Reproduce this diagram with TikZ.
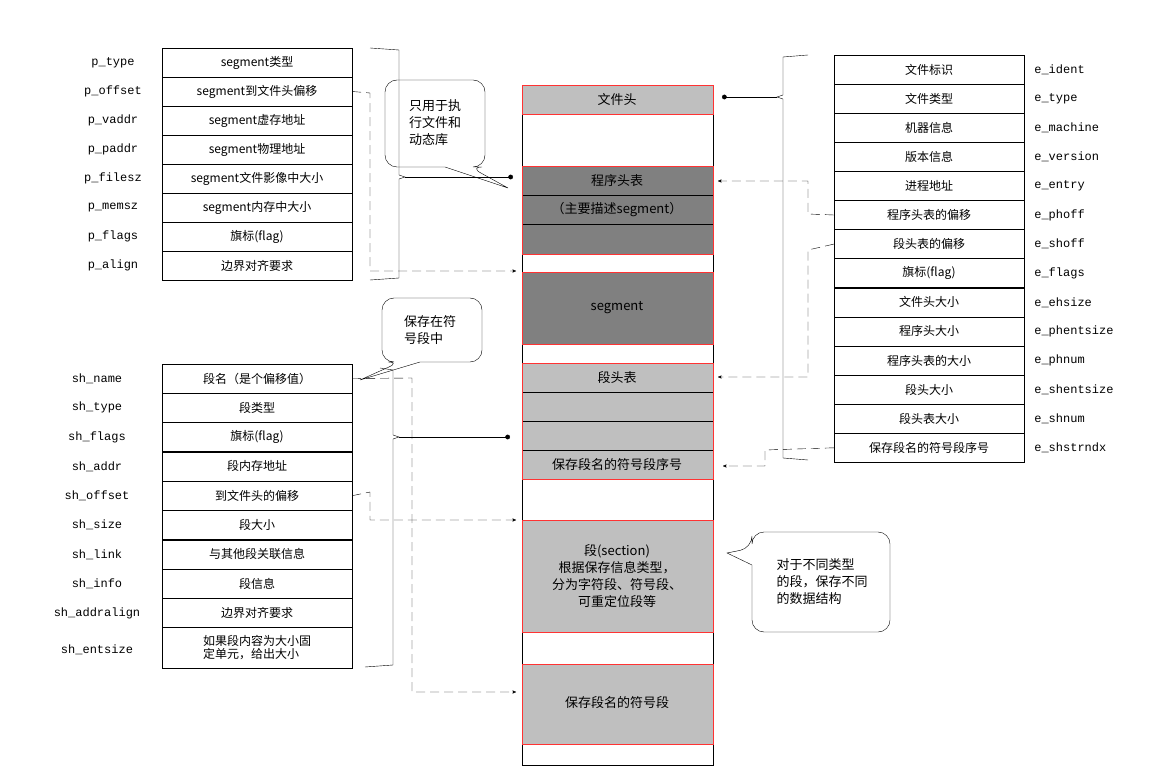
\documentclass[tikz,border=0pt]{standalone}
\usepackage{fontspec}
\setmainfont{Noto Sans CJK SC}
\newfontfamily\monof{Liberation Mono}
\usetikzlibrary{arrows,positioning}

\begin{document}
\begin{tikzpicture}[x=1pt,y=-1pt,>=stealth',semithick,
    cell/.style={draw=black,thin,minimum width=190pt,minimum height=29pt,inner sep=0pt,font=\fontsize{12}{13}\selectfont},
    lbl/.style={font=\monof\fontsize{12}{13}\selectfont,inner sep=0pt},
    blk/.style={draw=red!80,thin},
    dashlink/.style={dash pattern=on 9pt off 5pt,thin},
    callout/.style={draw=black,thin,rounded corners=12pt},
    txt/.style={font=\fontsize{13}{17}\selectfont,align=center,inner sep=0pt}]
  \useasboundingbox (0,0) rectangle (1162,775);

  % central column
  \draw[thin] (522,85) rectangle (713,765);
  \fill[gray!50] (522,85) rectangle (713,114);
  \fill[gray] (522,166) rectangle (713,254);
  \fill[gray] (522,272) rectangle (713,344);
  \fill[gray!50] (522,363) rectangle (713,479);
  \fill[gray!50] (522,520) rectangle (713,632);
  \fill[gray!50] (522,664) rectangle (713,744);
  \foreach \y in {195,224,392,421,450} \draw[thin] (522,\y) -- (713,\y);
  \foreach \a/\b in {85/114,166/254,272/344,363/479,520/632,664/744}
    \draw[blk] (522,\a) rectangle (713,\b);
  \node[txt] (fh)  at (617,100) {文件头};
  \node[txt] (pht) at (617,181) {程序头表};
  \node[txt] at (617,210) {（主要描述segment）};
  \node[txt] (seg) at (617,308) {segment};
  \node[txt] (sht) at (617,378) {段头表};
  \node[txt] (ssn) at (617,465) {保存段名的符号段序号};
  \node[txt] (sec) at (617,576) {段(section)\\根据保存信息类型，\\分为字符段、符号段、\\可重定位段等};
  \node[txt] (sym) at (617,703) {保存段名的符号段};

  % program header table
  \foreach \n/\t [count=\i from 0] in {p\_type/segment类型,p\_offset/segment到文件头偏移,
      p\_vaddr/segment虚存地址,p\_paddr/segment物理地址,p\_filesz/segment文件影像中大小,
      p\_memsz/segment内存中大小,p\_flags/旗标(flag),p\_align/边界对齐要求} {
    \node[cell] (p\i) at (257,62.5+29*\i) {\t};
    \node[lbl] at (113,62.5+29*\i) {\n};
  }

  % section header table
  \foreach \n/\t [count=\i from 0] in {sh\_name/段名（是个偏移值）,sh\_type/段类型,
      sh\_flags/旗标(flag),sh\_addr/段内存地址,sh\_offset/到文件头的偏移,sh\_size/段大小,
      sh\_link/与其他段关联信息,sh\_info/段信息,sh\_addralign/边界对齐要求} {
    \node[cell] (s\i) at (257,378.5+29.3*\i) {\t};
    \node[lbl] at (97,378.5+29.3*\i) {\n};
  }
  \node[cell,minimum height=41pt,align=left] (s9) at (257,647.5) {如果段内容为大小固\\定单元，给出大小};
  \node[lbl] at (97,650) {sh\_entsize};

  % ELF header
  \foreach \t/\n [count=\i from 0] in {文件标识/e\_ident,文件类型/e\_type,机器信息/e\_machine,
      版本信息/e\_version,进程地址/e\_entry,程序头表的偏移/e\_phoff,段头表的偏移/e\_shoff,
      旗标(flag)/e\_flags,文件头大小/e\_ehsize,程序头大小/e\_phentsize,程序头表的大小/e\_phnum,
      段头大小/e\_shentsize,段头表大小/e\_shnum,保存段名的符号段序号/e\_shstrndx} {
    \node[cell] (e\i) at (929,69.5+29.1*\i) {\t};
    \node[lbl,anchor=west] at (1034,69.5+29.1*\i) {\n};
  }

  % braces and links
  \draw[thin] (370,48) -- (399,50) -- (399,175) -- (405,177) -- (399,179) -- (399,278) -- (370,280);
  \draw[thin,-*] (405,177) -- (513,177);
  \draw[thin] (380,368) -- (393,370) -- (393,435) -- (399,437) -- (393,439) -- (393,665) -- (365,667);
  \draw[thin,-*] (399,437) -- (510,437);
  \draw[thin] (808,55) -- (783,57) -- (783,95) -- (777,97) -- (783,99) -- (783,458) -- (808,460);
  \draw[thin,-*] (777,97) -- (722,97);

  \draw[dashlink,->] (p1.east) -- (370,93) -- (370,271) -- (516,271);
  \draw[dashlink,->] (s0.east) -- (412,378) -- (412,692) -- (516,692);
  \draw[dashlink,->] (s4.east) -- (370,492) -- (370,520) -- (516,520);
  \draw[dashlink,->] (e5.west) -- (808,214) -- (808,181) -- (718,181);
  \draw[dashlink,->] (e6.west) -- (808,250) -- (808,377) -- (718,377);
  \draw[dashlink,->] (e13.west) -- (765,450) -- (765,466) -- (723,466);

  % callouts
  \draw[callout] (430,167) -- (385,167) -- (385,80) -- (485,80) -- (485,167) -- (470,167)
    [sharp corners] -- (508,188) -- (445,167) -- cycle;
  \node[txt,align=left] at (435,123) {只用于执\\行文件和\\动态库};
  \draw[callout] (420,362) -- (482,362) -- (482,298) -- (382,298) -- (382,362) -- (400,362)
    [sharp corners] -- (360,380) -- (420,362) -- cycle;
  \node[txt,align=left] at (430,330) {保存在符\\号段中};
  \draw[callout] (752,565) -- (752,632) -- (890,632) -- (890,532) -- (752,532) -- (752,548)
    [sharp corners] -- (727,553) -- (752,565) -- cycle;
  \node[txt,align=left] at (822,582) {对于不同类型\\的段，保存不同\\的数据结构};
\end{tikzpicture}
\end{document}
